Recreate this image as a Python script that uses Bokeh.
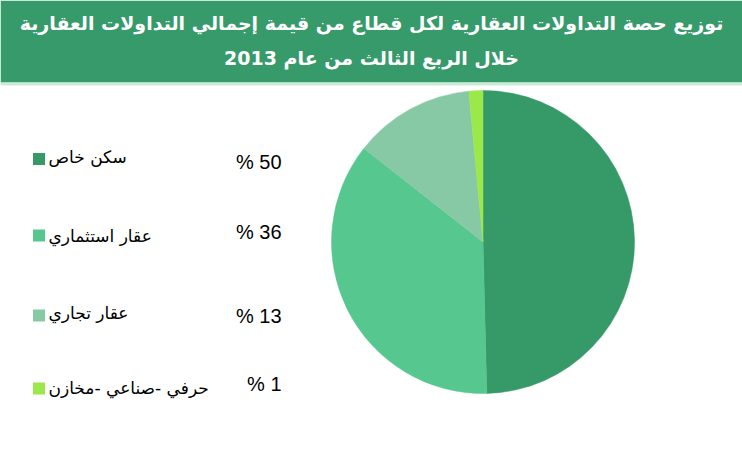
import math
from bokeh.plotting import figure
from bokeh.models import Range1d
from bokeh.core.properties import value
from bokeh.embed import file_html
from bokeh.resources import INLINE

# ---- data ----
categories = ["سكن خاص", "عقار استثماري", "عقار تجاري", "حرفي -صناعي -مخازن"]
shares = [49.6, 36.0, 12.9, 1.5]
pct_labels = ["% 50", "% 36", "% 13", "% 1"]
colors = ["#359a68", "#56c78e", "#88c9a5", "#9be84a"]
title_lines = ["توزيع حصة التداولات العقارية لكل قطاع من قيمة إجمالي التداولات العقارية",
               "خلال الربع الثالث من عام 2013"]

W, H = 742, 450
p = figure(width=W, height=H, x_range=Range1d(0, W), y_range=Range1d(0, H),
           output_backend="svg", toolbar_location=None, min_border=0,
           x_axis_type=None, y_axis_type=None)
p.outline_line_color = None
p.grid.visible = False
p.background_fill_color = "white"
p.border_fill_color = "white"

def Y(py):
    return H - py

# banner
p.quad(left=0, right=W, top=Y(0), bottom=Y(82), fill_color="#379a6a", line_color=None)
p.quad(left=0, right=W, top=Y(82), bottom=Y(85), fill_color="#c9ecd6", line_color=None)
p.text(x=[W / 2, W / 2], y=[Y(22), Y(57)], text=title_lines,
       text_font=value("DejaVu Sans"), text_font_style="bold", text_font_size="19px",
       text_color="white", text_align="center", text_baseline="middle")

# pie
total = sum(shares)
cx, cy, r = 482.5, Y(241.5), 151.5
cum = 0.0
starts, ends = [], []
for s in shares:
    starts.append(math.pi / 2 - 2 * math.pi * cum / total)
    cum += s
    ends.append(math.pi / 2 - 2 * math.pi * cum / total)
p.wedge(x=[cx] * len(shares), y=[cy] * len(shares), radius=r,
        start_angle=starts, end_angle=ends, direction="clock",
        fill_color=colors, line_color=colors, line_width=0.5)

# legend
sq_y = [158.5, 235, 315, 388]
lab_y = [156, 235, 312, 387]
pct_y = [161, 231, 315, 383]
p.rect(x=[38.5] * 4, y=[Y(v) for v in sq_y], width=12, height=12,
       fill_color=colors, line_color=None)
p.text(x=[48] * 4, y=[Y(v) for v in lab_y], text=categories,
       text_font=value("DejaVu Sans"), text_font_size="17px", text_color="black",
       text_align="left", text_baseline="middle")
p.text(x=[281] * 4, y=[Y(v) for v in pct_y], text=pct_labels,
       text_font=value("Liberation Sans"), text_font_size="20px", text_color="black",
       text_align="right", text_baseline="middle")

open("out.html", "w").write(file_html(p, INLINE))
